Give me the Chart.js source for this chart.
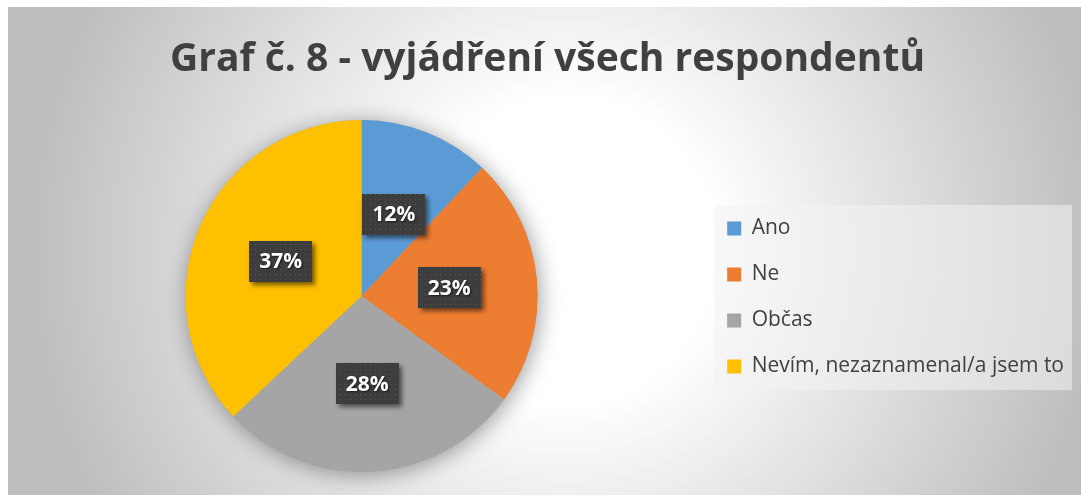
<!DOCTYPE html>
<html>
<head>
<meta charset="utf-8">
<script src="https://cdn.jsdelivr.net/npm/chart.js@4.4.1/dist/chart.umd.min.js"></script>
<style>
  html, body { margin: 0; padding: 0; background: #fff; }
  #wrap {
    position: absolute; left: 8px; top: 7px; width: 1073px; height: 488px;
    background: radial-gradient(circle 600px at 52% 50%, #ffffff 0%, #ffffff 25%, #bdbdbd 90%);
  }
</style>
</head>
<body>
<div id="wrap"><canvas id="graf"></canvas></div>
<script>
	// data
	const labels = ['Ano', 'Ne', 'Občas', 'Nevím, nezaznamenal/a jsem to'];
	const values = [12, 23, 28, 37];
	const colors = ['#5B9BD5', '#ED7D31', '#A5A5A5', '#FFC000'];
	const titleText = 'Graf č. 8 - vyjádření všech respondentů';

	const textColor = '#404040';
	const legendPad = 25;
	const legendFont = 21;
	// empty legend title, only used to push the items down
	const legendTitleSize = 10;
	const legendTitlePad = 52;

	// dotted dark fill for the value boxes
	const tile = document.createElement('canvas');
	tile.width = 5; tile.height = 5;
	const tctx = tile.getContext('2d');
	tctx.fillStyle = '#3d3d3d';
	tctx.fillRect(0, 0, 5, 5);
	tctx.fillStyle = '#575757';
	tctx.fillRect(2, 2, 1, 1);

	// soft shadow under the whole pie
	const pieShadow = {
		id: 'pieShadow',
		beforeDatasetsDraw(chart) {
			const arc = chart.getDatasetMeta(0).data[0];
			if (!arc) return;
			const ctx = chart.ctx;
			ctx.save();
			ctx.shadowColor = 'rgba(0,0,0,0.38)';
			ctx.shadowBlur = 22;
			ctx.shadowOffsetX = 2;
			ctx.shadowOffsetY = 3;
			ctx.beginPath();
			ctx.arc(arc.x, arc.y, arc.outerRadius, 0, Math.PI * 2);
			ctx.fillStyle = '#a5a5a5';
			ctx.fill();
			ctx.restore();
		}
	};

	// light box behind the legend
	const legendBox = {
		id: 'legendBox',
		beforeDraw(chart) {
			const lg = chart.legend;
			if (!lg || !lg.columnSizes) return;
			const ctx = chart.ctx;
			const colH = lg.columnSizes[0].height;
			const itemH = legendFont;
			const titleH = legendTitleSize * 1.2 + legendTitlePad * 2;
			const firstY = (lg.top + titleH + legendPad + lg.bottom - colH) / 2;
			const lastY = firstY + (labels.length - 1) * (itemH + legendPad);
			const x0 = lg.left + legendPad - 13;
			const x1 = lg.right - 2;
			ctx.save();
			ctx.fillStyle = 'rgba(242,242,242,0.55)';
			ctx.fillRect(x0, firstY - 13, x1 - x0, lastY + itemH + 26 - firstY);
			ctx.restore();
		}
	};

	// percentage labels in dark boxes
	const valueBoxes = {
		id: 'valueBoxes',
		afterDatasetsDraw(chart) {
			const ctx = chart.ctx;
			const meta = chart.getDatasetMeta(0);
			const pattern = ctx.createPattern(tile, 'repeat');
			ctx.save();
			ctx.font = 'bold 21px "Open Sans"';
			ctx.textAlign = 'center';
			ctx.textBaseline = 'middle';
			meta.data.forEach((arc, i) => {
				const p = arc.getCenterPoint();
				const txt = values[i] + '%';
				const w = Math.round(ctx.measureText(txt).width) + 20;
				const h = 41;
				const bx = Math.round(p.x - w / 2);
				const by = Math.round(p.y - h / 2);
				ctx.save();
				ctx.shadowColor = 'rgba(0,0,0,0.55)';
				ctx.shadowBlur = 5;
				ctx.shadowOffsetX = 3;
				ctx.shadowOffsetY = 3;
				ctx.fillStyle = pattern;
				ctx.fillRect(bx, by, w, h);
				ctx.restore();
				ctx.save();
				ctx.shadowColor = 'rgba(0,0,0,0.6)';
				ctx.shadowBlur = 2;
				ctx.shadowOffsetX = 1;
				ctx.shadowOffsetY = 1;
				ctx.fillStyle = '#ffffff';
				ctx.fillText(txt, p.x, p.y + 1);
				ctx.restore();
			});
			ctx.restore();
		}
	};

	const data = {
		labels: labels,
		datasets: [{
			data: values,
			backgroundColor: colors,
			borderWidth: 0
		}]
	};

	const config = {
		type: 'pie',
		data: data,
		options: {
			responsive: true,
			maintainAspectRatio: false,
			animation: false,
			layout: {
				padding: { left: 13, right: 7, top: 0, bottom: 23 }
			},
			plugins: {
				title: {
					display: true,
					text: titleText,
					color: textColor,
					font: { family: '"Open Sans"', size: 39, weight: 'bold', lineHeight: 1.2 },
					padding: { top: 29.9, bottom: 36.3 }
				},
				legend: {
					position: 'right',
					align: 'center',
					title: {
						display: true,
						text: ' ',
						font: { size: legendTitleSize, lineHeight: 1.2 },
						padding: legendTitlePad
					},
					labels: {
						boxWidth: 14,
						boxHeight: 14,
						padding: legendPad,
						color: textColor,
						font: { family: '"Open Sans"', size: legendFont }
					}
				},
				tooltip: { enabled: false }
			}
		},
		plugins: [pieShadow, legendBox, valueBoxes]
	};

	const graf = new Chart(document.getElementById('graf'), config);
</script>
</body>
</html>
